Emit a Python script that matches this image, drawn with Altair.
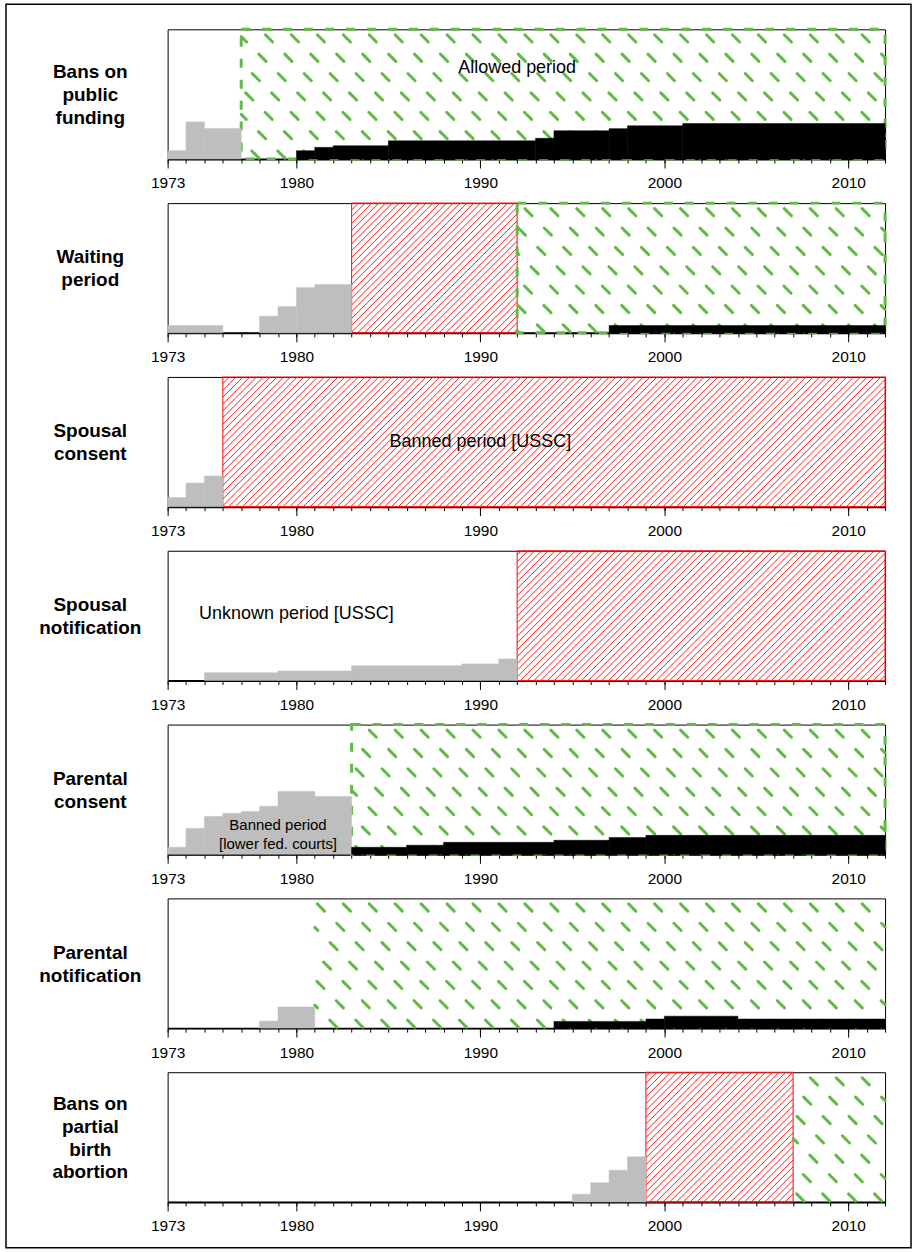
import altair as alt
import numpy as np
import pandas as pd

# ---------------- data ----------------
YEAR_MIN, YEAR_MAX = 1973, 2012
Y_MAX = 50  # number of states

LABELS = [
    "Bans on\npublic\nfunding",
    "Waiting\nperiod",
    "Spousal\nconsent",
    "Spousal\nnotification",
    "Parental\nconsent",
    "Parental\nnotification",
    "Bans on\npartial\nbirth\nabortion",
]

# grey = before the courts ruled, one value per year starting at GRAY_FIRST_YEAR
GRAY_FIRST_YEAR = [1973, 1973, 1973, 1975, 1973, 1978, 1995]
GRAY_VALUES = [
    [3.2, 14.3, 11.8, 11.8],
    [2.8, 2.8, 2.8, 0, 0, 6.4, 10.1, 17.4, 18.6, 18.6],
    [3.5, 9.1, 11.8],
    [3.0, 3.0, 3.0, 3.0, 3.7, 3.7, 3.7, 3.7, 5.7, 5.7, 5.7, 5.7, 5.7, 5.7, 6.4, 6.4, 8.3],
    [2.7, 10.0, 14.6, 15.8, 16.5, 18.5, 24.2, 24.2, 22.3, 22.3],
    [2.7, 8.1, 8.1],
    [3.0, 7.4, 12.2, 17.4],
]

# black = enforced laws, one value per year starting at BLACK_FIRST_YEAR
BLACK_FIRST_YEAR = [1980, 1997, None, None, 1983, 1994, None]
BLACK_VALUES = [
    [3.2, 4.5, 5.1, 5.1, 5.1, 7.0, 7.0, 7.0, 7.0, 7.0, 7.0, 7.0, 7.0, 8.0, 10.9, 10.9,
     10.9, 11.7, 12.8, 12.8, 12.8, 13.7, 13.7, 13.7, 13.7, 13.7, 13.7, 13.7, 13.7, 13.7,
     13.7, 13.7],
    [2.8, 2.8, 2.8, 2.8, 2.8, 2.8, 2.8, 2.8, 2.8, 2.8, 2.8, 2.8, 2.8, 2.8, 2.8],
    [],
    [],
    [2.7, 2.7, 2.7, 3.5, 3.5, 4.6, 4.6, 4.6, 4.6, 4.6, 4.6, 5.4, 5.4, 5.4, 6.5, 6.5,
     7.3, 7.3, 7.3, 7.3, 7.3, 7.3, 7.3, 7.3, 7.3, 7.3, 7.3, 7.3, 7.3],
    [2.6, 2.6, 2.6, 2.6, 2.6, 3.5, 4.6, 4.6, 4.6, 4.6, 3.5, 3.5, 3.5, 3.5, 3.5, 3.5,
     3.5, 3.5],
    [],
]

BANNED_PERIODS = [[], [(1983, 1992)], [(1976, 2012)], [(1992, 2012)], [], [], [(1999, 2007)]]
ALLOWED_PERIODS = [[(1977, 2012)], [(1992, 2012)], [], [], [(1983, 2012)], [(1981, 2012)], [(2007, 2012)]]
ALLOWED_BORDER = [True, True, False, False, True, False, False]

NOTE_TEXT = [["Allowed period"], [], ["Banned period [USSC]"], ["Unknown period [USSC]"],
             ["Banned period", "[lower fed. courts]"], [], []]
NOTE_YEAR = [[1992.0], [], [1990.0], [1980.0], [1979.0, 1979.0], [], []]
NOTE_VALUE = [[34.9], [], [25.1], [25.5], [11.2, 3.9], [], []]
NOTE_SIZE = [18, 18, 18, 18, 15, 18, 18]

MAJOR_TICKS = [1973, 1980, 1990, 2000, 2010]
ALL_YEARS = list(range(YEAR_MIN, YEAR_MAX + 1))

# ---------------- style ----------------
W, H = 719, 130
PXY = W / (YEAR_MAX - YEAR_MIN)
PXV = H / Y_MAX
GRAY = "#BEBEBE"
RED = "#FF1A1A"
GREEN = "#62BA46"
FONT = "Liberation Sans"
LINE_H = 23

XS = alt.Scale(domain=[YEAR_MIN, YEAR_MAX], nice=False, zero=False)
YS = alt.Scale(domain=[0, Y_MAX], nice=False, zero=False)


def runs(first, values):
    rows = []
    if first is None:
        return pd.DataFrame(rows)
    start = first
    for i, v in enumerate(values):
        yr = first + i
        nxt = values[i + 1] if i + 1 < len(values) else None
        if nxt != v:
            if v > 0:
                rows.append(dict(x=start, x2=yr + 1, v=v))
            start = yr + 1
    return pd.DataFrame(rows)


RED_SP = 6.8


def red_hatch(a, b):
    """'/' lines at 45 degrees in screen space, clipped to the period."""
    ua, ub = (a - YEAR_MIN) * PXY, (b - YEAR_MIN) * PXY
    rows = []
    k0 = int(np.floor((ua - H) / RED_SP)) - 1
    k1 = int(np.ceil(ub / RED_SP)) + 1
    for k in range(k0, k1 + 1):
        c = k * RED_SP
        lo, hi = max(ua, c), min(ub, c + H)
        if hi - lo > 0.3:
            rows.append(dict(x=YEAR_MIN + lo / PXY, y=(lo - c) / PXV,
                             x2=YEAR_MIN + hi / PXY, y2=(hi - c) / PXV))
    return rows


G_DX, G_DY, G_U0, G_V0, G_HALF = 26.0, 19.4, 10.0, 4.5, 3.6


def green_hatch(a, b):
    """short '\\' dashes on a lattice, clipped to the period."""
    ua, ub = (a - YEAR_MIN) * PXY, (b - YEAR_MIN) * PXY
    rows = []
    for j in range(0, 8):
        vc = G_V0 + G_DY * j
        for i in range(-10, 50):
            uc = G_U0 + G_DX * i - G_DY * j
            L = 2 * G_HALF
            t0 = max(0.0, (ua - uc + G_HALF) / L, (vc + G_HALF - H) / L)
            t1 = min(1.0, (ub - uc + G_HALF) / L, (vc + G_HALF) / L)
            if t1 - t0 > 0.05:
                u1, v1 = uc - G_HALF + L * t0, vc + G_HALF - L * t0
                u2, v2 = uc - G_HALF + L * t1, vc + G_HALF - L * t1
                rows.append(dict(x=YEAR_MIN + u1 / PXY, y=v1 / PXV,
                                 x2=YEAR_MIN + u2 / PXY, y2=v2 / PXV))
    return rows


MAJOR_AXIS = alt.Axis(values=MAJOR_TICKS, format="d", orient="bottom", tickSize=9,
                      tickColor="black", tickWidth=1, domain=True, domainColor="black",
                      domainWidth=2, labelFontSize=15.5, labelFont=FONT, labelColor="black",
                      labelPadding=8, labelOverlap=False, labelFlush=False, grid=False,
                      title=None)
MINOR_AXIS = alt.Axis(values=ALL_YEARS, orient="bottom", tickSize=4, tickColor="black",
                      tickWidth=1, domain=False, labels=False, grid=False, title=None)


def qx(f, axis=None):
    return alt.X(f, type="quantitative", scale=XS, axis=axis)


def qy(f):
    return alt.Y(f, type="quantitative", scale=YS, axis=None)


def panel(p):
    layers = []
    # red (banned) periods
    if BANNED_PERIODS[p]:
        df = pd.DataFrame([dict(x=a, x2=b, top=Y_MAX, bot=0) for a, b in BANNED_PERIODS[p]])
        hatch = []
        for a, b in BANNED_PERIODS[p]:
            hatch += red_hatch(a, b)
        layers.append(alt.Chart(pd.DataFrame(hatch))
                      .mark_rule(stroke=RED, strokeWidth=1, strokeOpacity=1)
                      .encode(x=qx("x"), x2="x2", y=qy("y"), y2="y2"))
        layers.append(alt.Chart(df).mark_rect(filled=False, stroke=RED, strokeWidth=1.1)
                      .encode(x=qx("x"), x2="x2", y=qy("top"), y2="bot"))
    # green (allowed) periods
    if ALLOWED_PERIODS[p]:
        hatch = []
        for a, b in ALLOWED_PERIODS[p]:
            hatch += green_hatch(a, b)
        layers.append(alt.Chart(pd.DataFrame(hatch))
                      .mark_rule(stroke=GREEN, strokeWidth=3, strokeCap="round")
                      .encode(x=qx("x"), x2="x2", y=qy("y"), y2="y2"))
        if ALLOWED_BORDER[p]:
            df = pd.DataFrame([dict(x=a, x2=b, top=Y_MAX, bot=0) for a, b in ALLOWED_PERIODS[p]])
            layers.append(alt.Chart(df).mark_rect(filled=False, stroke=GREEN, strokeWidth=3,
                                                  strokeDash=[9, 12])
                          .encode(x=qx("x"), x2="x2", y=qy("top"), y2="bot"))
    # grey bars
    g = runs(GRAY_FIRST_YEAR[p], GRAY_VALUES[p])
    g["zero"] = 0
    layers.append(alt.Chart(g).mark_rect(fill=GRAY, stroke=GRAY, strokeWidth=0.5)
                  .encode(x=qx("x"), x2="x2", y=qy("v"), y2="zero"))
    # black bars
    bk = runs(BLACK_FIRST_YEAR[p], BLACK_VALUES[p])
    if len(bk):
        bk["zero"] = 0
        layers.append(alt.Chart(bk).mark_rect(fill="black", stroke="black", strokeWidth=0.5)
                      .encode(x=qx("x"), x2="x2", y=qy("v"), y2="zero"))
    # notes
    if NOTE_TEXT[p]:
        nd = pd.DataFrame(dict(t=NOTE_TEXT[p], x=NOTE_YEAR[p], y=NOTE_VALUE[p]))
        layers.append(alt.Chart(nd).mark_text(fontSize=NOTE_SIZE[p], font=FONT, color="black",
                                              align="center", baseline="middle")
                      .encode(x=qx("x"), y=qy("y"), text="t:N"))
    # panel label (left of the plot, vertically centred)
    n_lines = LABELS[p].count("\n") + 1
    ld = pd.DataFrame(dict(t=[LABELS[p]], lx=[YEAR_MIN - 77.5 / PXY], ly=[Y_MAX / 2]))
    layers.append(alt.Chart(ld).mark_text(fontSize=19, font=FONT, fontWeight="bold",
                                          color="black", align="center", baseline="middle",
                                          lineBreak="\n", lineHeight=LINE_H,
                                          dy=-(n_lines - 1) * LINE_H / 2 + 1)
                  .encode(x=qx("lx"), y=qy("ly"), text="t:N"))
    # axes (minor yearly ticks + labelled major ticks)
    yd = pd.DataFrame(dict(year=ALL_YEARS, zero=0))
    layers.append(alt.Chart(yd).mark_point(opacity=0)
                  .encode(x=qx("year", MINOR_AXIS), y=qy("zero")))
    layers.append(alt.Chart(yd).mark_point(opacity=0)
                  .encode(x=qx("year", MAJOR_AXIS), y=qy("zero")))
    # outer frame of the whole figure (drawn once, from panel 1)
    if p == 0:
        fd = pd.DataFrame(dict(fx=[YEAR_MIN - 162 / PXY], fx2=[YEAR_MIN + 745 / PXY],
                               fy=[Y_MAX + 25 / PXV], fy2=[Y_MAX - 1221 / PXV]))
        layers.append(alt.Chart(fd).mark_rect(filled=False, stroke="black", strokeWidth=1.5)
                      .encode(x=qx("fx"), x2="fx2", y=qy("fy"), y2="fy2"))
    return alt.layer(*layers).resolve_axis(x="independent").properties(width=W, height=H)


chart = alt.vconcat(*[panel(p) for p in range(len(LABELS))], spacing=44.2, bounds="flush") \
    .configure_view(stroke="black", strokeWidth=1) \
    .properties(padding={"left": 4, "top": 1, "right": 4, "bottom": 2}, background="white")

chart.save("out.html", embed_options={"renderer": "svg", "actions": False})
